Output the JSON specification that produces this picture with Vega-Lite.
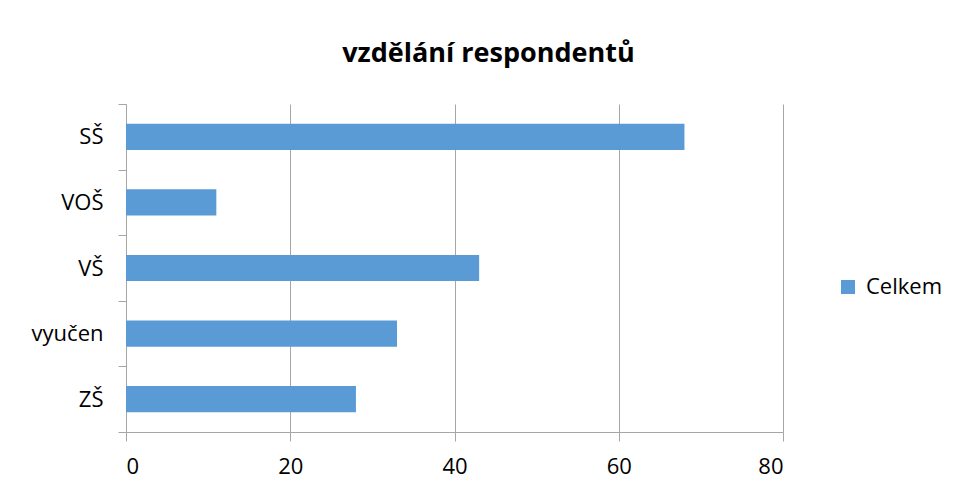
{
  "$schema": "https://vega.github.io/schema/vega-lite/v6.json",
  "autosize": "none",
  "width": 657,
  "height": 328,
  "padding": {"left": 126, "top": 104, "right": 172, "bottom": 62},
  "background": "white",
  "title": {
    "text": "vzdělání respondentů",
    "font": "Open Sans",
    "fontSize": 27,
    "fontWeight": "bold",
    "color": "#000000",
    "anchor": "middle",
    "frame": "group",
    "dx": 34,
    "offset": 25
  },
  "data": {
    "values": [
      {"kategorie": "ZŠ", "pocet": 28, "serie": "Celkem"},
      {"kategorie": "vyučen", "pocet": 33, "serie": "Celkem"},
      {"kategorie": "VŠ", "pocet": 43, "serie": "Celkem"},
      {"kategorie": "VOŠ", "pocet": 11, "serie": "Celkem"},
      {"kategorie": "SŠ", "pocet": 68, "serie": "Celkem"}
    ]
  },
  "mark": {"type": "bar", "color": "#5b9bd5", "height": {"band": 0.4}},
  "encoding": {
    "y": {
      "field": "kategorie",
      "type": "nominal",
      "sort": ["SŠ", "VOŠ", "VŠ", "vyučen", "ZŠ"],
      "scale": {"paddingInner": 0, "paddingOuter": 0},
      "axis": {
        "title": null,
        "tickBand": "extent",
        "tickSize": 8,
        "tickColor": "#a6a6a6",
        "domainColor": "#a6a6a6",
        "labelFont": "Open Sans",
        "labelFontSize": 22,
        "labelColor": "#000000",
        "labelPadding": 15,
        "grid": false
      }
    },
    "x": {
      "field": "pocet",
      "type": "quantitative",
      "scale": {"domain": [0, 80], "nice": false},
      "axis": {
        "title": null,
        "values": [0, 20, 40, 60, 80],
        "tickSize": 9,
        "tickColor": "#a6a6a6",
        "domainColor": "#a6a6a6",
        "gridColor": "#a6a6a6",
        "grid": true,
        "labelFont": "Open Sans",
        "labelFontSize": 22,
        "labelColor": "#000000",
        "labelPadding": 15
      }
    },
    "color": {
      "field": "serie",
      "type": "nominal",
      "scale": {"range": ["#5b9bd5"]},
      "legend": {
        "title": null,
        "orient": "none",
        "legendX": 711,
        "legendY": 172,
        "symbolType": "square",
        "symbolSize": 196,
        "symbolStrokeWidth": 0,
        "labelFont": "Open Sans",
        "labelFontSize": 22,
        "labelColor": "#000000",
        "labelOffset": 7,
        "padding": 0
      }
    }
  },
  "config": {
    "view": {"stroke": null},
    "axis": {"domainWidth": 1, "tickWidth": 1, "gridWidth": 1}
  }
}
